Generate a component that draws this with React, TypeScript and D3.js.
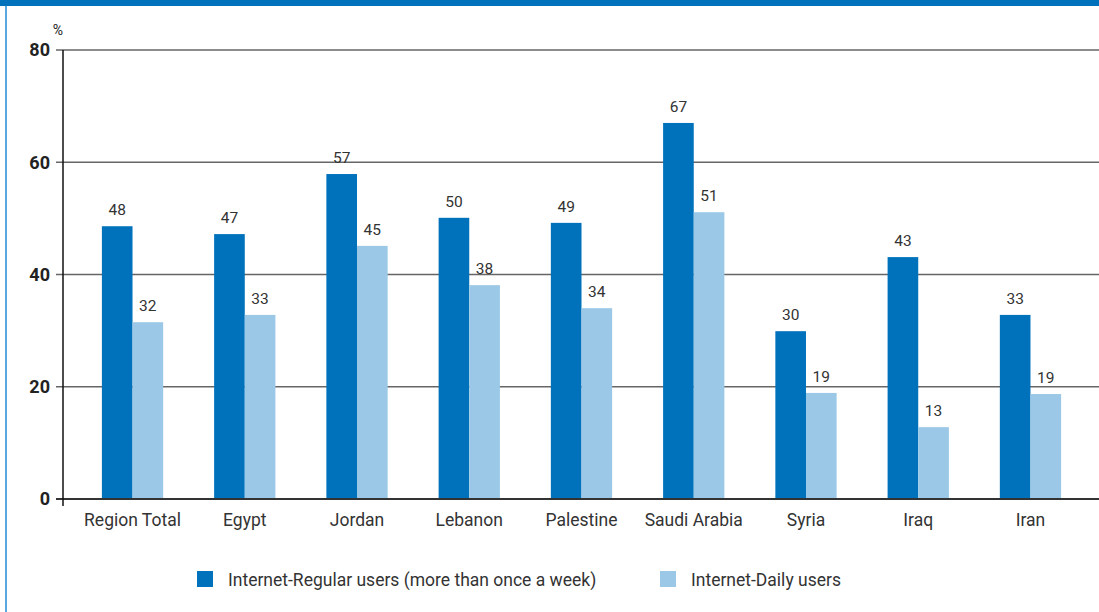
import React from "react";
import * as d3 from "d3";

const categories = ["Region Total", "Egypt", "Jordan", "Lebanon", "Palestine", "Saudi Arabia", "Syria", "Iraq", "Iran"];
const regularValues = [48.6, 47.2, 57.9, 50.1, 49.2, 67.0, 29.9, 43.1, 32.8];
const regularLabels = ["48", "47", "57", "50", "49", "67", "30", "43", "33"];
const dailyValues = [31.5, 32.8, 45.1, 38.1, 34.0, 51.1, 18.9, 12.8, 18.7];
const dailyLabels = ["32", "33", "45", "38", "34", "51", "19", "13", "19"];
const yTicks = [0, 20, 40, 60, 80];
const seriesNames = ["Internet-Regular users (more than once a week)", "Internet-Daily users"];

const W = 1099;
const H = 612;
const DARK = "#0072BC";
const LIGHT = "#9BC8E6";
const TEXT = "#333333";
const FONT = "Roboto, 'Noto Sans', sans-serif";

export default function App() {
  const y = d3.scaleLinear().domain([0, 80]).range([499, 50]);
  const x = d3.scaleBand<string>().domain(categories).range([76.4, 1086.6]).padding(0);
  const bw = x.bandwidth() * 0.273;
  const axisX = 63;

  return (
    <svg width={W} height={H} style={{ position: "absolute", left: 0, top: 0, background: "#fff" }} fontFamily={FONT}>
      <rect x={0} y={0} width={W} height={H} fill="#fff" />
      <rect x={0} y={0} width={W} height={6} fill={DARK} />
      <rect x={5} y={6} width={2} height={H - 6} fill="#5AA9DE" />

      {yTicks.map((t) => (
        <line
          key={"g" + t}
          x1={56}
          x2={W}
          y1={y(t)}
          y2={y(t)}
          stroke={t === 0 ? "#333" : "#666"}
          strokeWidth={t === 0 ? 2 : 1.3}
        />
      ))}
      {yTicks.map((t) => (
        <text key={"t" + t} x={50} y={y(t)} dy="0.36em" textAnchor="end" fontSize={18} fontWeight={700} fill="#222">
          {t}
        </text>
      ))}
      <text x={58} y={35} textAnchor="middle" fontSize={14} fill="#222">%</text>

      {categories.map((c, i) => {
        const cx = (x(c) as number) + x.bandwidth() / 2;
        return (
          <g key={c}>
            <rect x={cx - bw} y={y(regularValues[i])} width={bw} height={y(0) - y(regularValues[i])} fill={DARK} />
            <rect x={cx} y={y(dailyValues[i])} width={bw} height={y(0) - y(dailyValues[i])} fill={LIGHT} />
            <text x={cx - bw / 2} y={y(regularValues[i]) - 11} textAnchor="middle" fontSize={15.5} fill={TEXT}>
              {regularLabels[i]}
            </text>
            <text x={cx + bw / 2} y={y(dailyValues[i]) - 11} textAnchor="middle" fontSize={15.5} fill={TEXT}>
              {dailyLabels[i]}
            </text>
            <text x={cx} y={526} textAnchor="middle" fontSize={17.5} fill={TEXT}>
              {c}
            </text>
          </g>
        );
      })}

      <line x1={56} x2={W} y1={y(0)} y2={y(0)} stroke="#333" strokeWidth={2} />
      <line x1={axisX} x2={axisX} y1={y(80)} y2={506} stroke="#111" strokeWidth={1.5} />

      <rect x={197} y={571} width={16} height={16} fill={DARK} />
      <text x={228} y={586} fontSize={17.5} fill={TEXT}>{seriesNames[0]}</text>
      <rect x={660} y={571} width={16} height={16} fill={LIGHT} />
      <text x={691} y={586} fontSize={17.5} fill={TEXT}>{seriesNames[1]}</text>
    </svg>
  );
}
